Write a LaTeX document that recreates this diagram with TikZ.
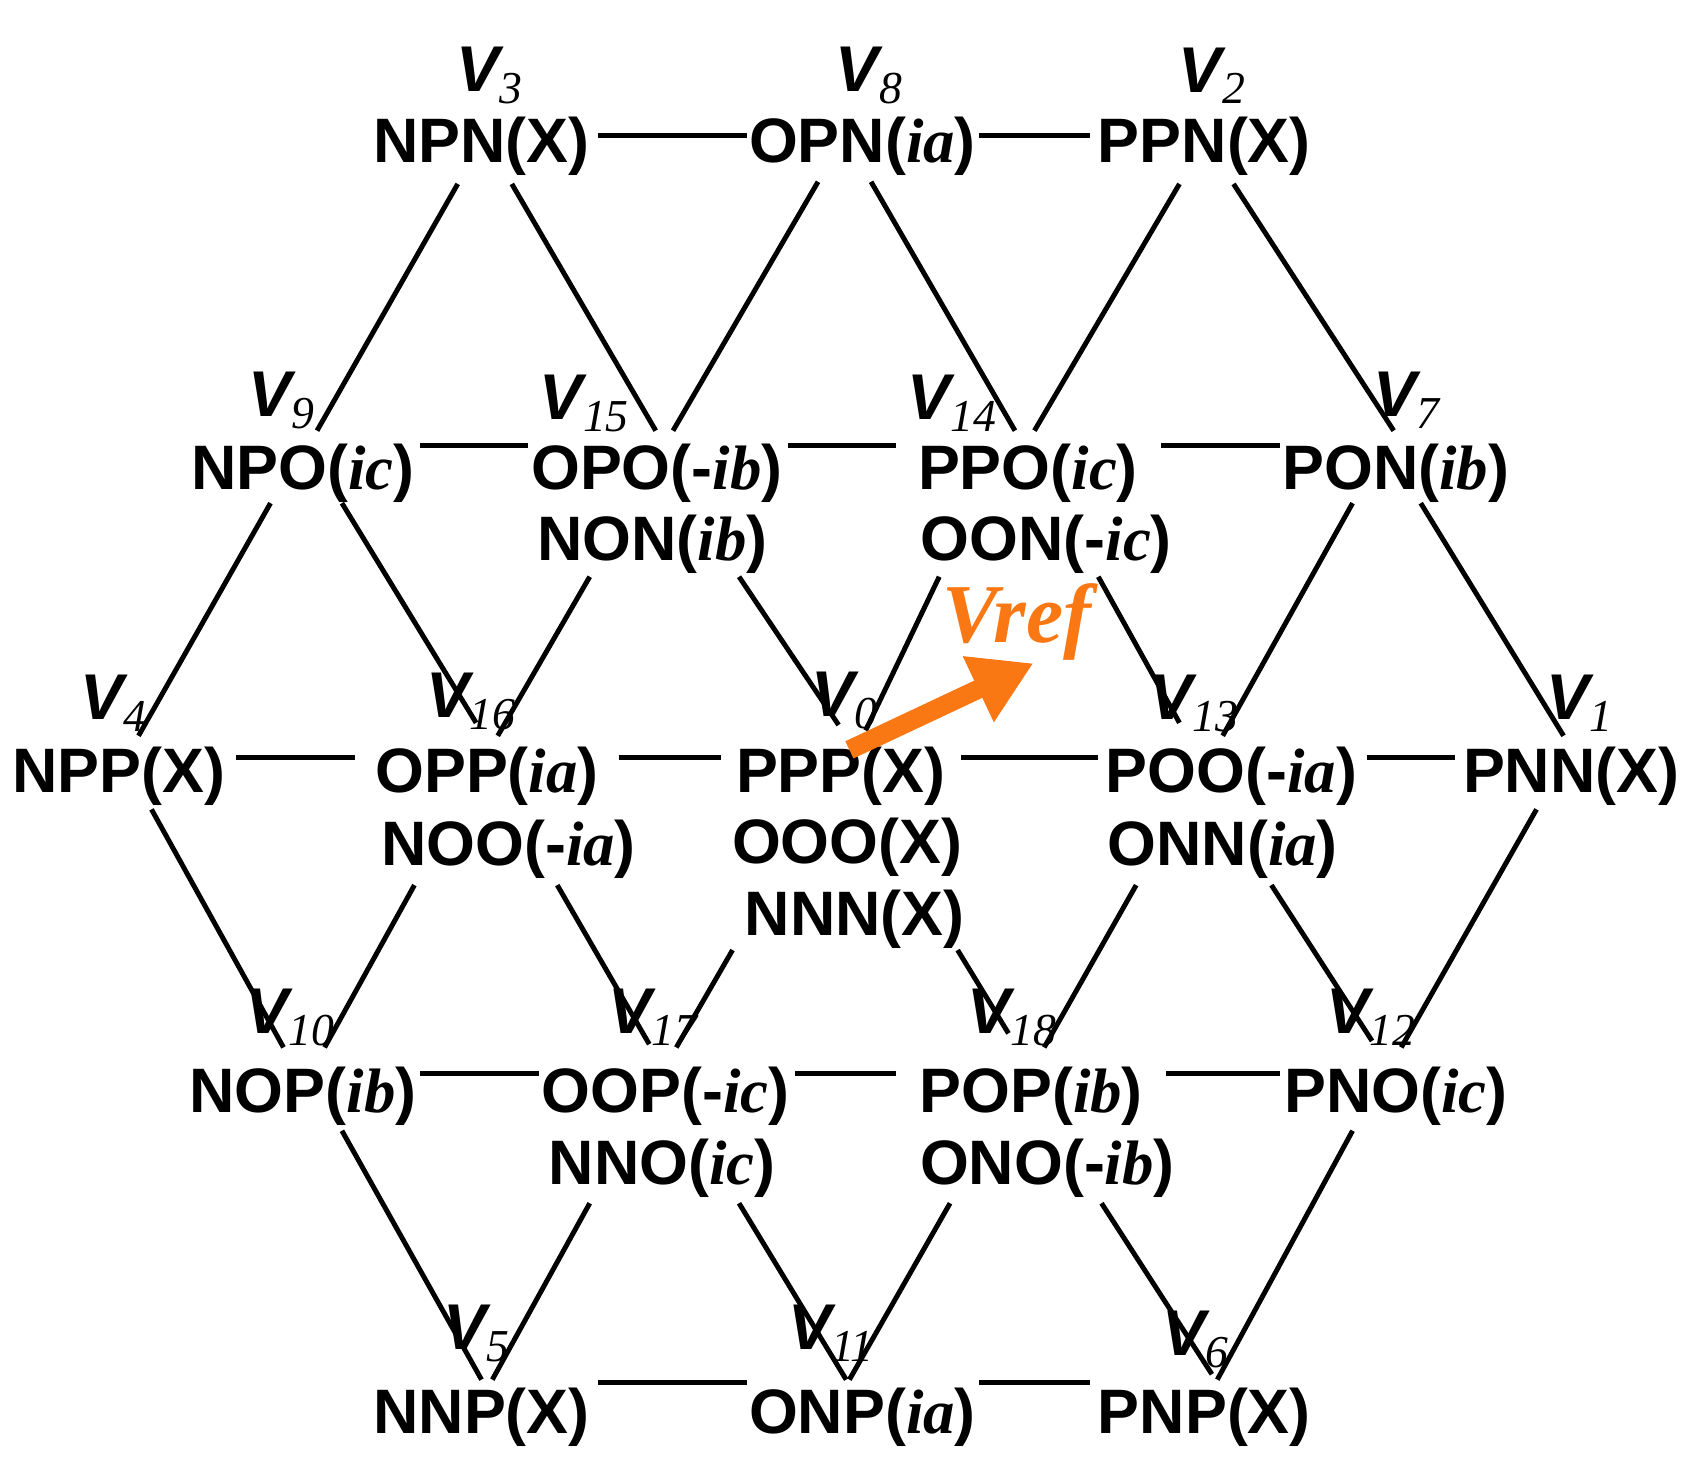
\documentclass[tikz,border=0pt]{standalone}
\usepackage{fontspec}
\setmainfont{Liberation Sans}
\newfontfamily\serifit{Liberation Serif}
\usetikzlibrary{arrows.meta}
\newcommand{\ii}[1]{{\serifit\bfseries\itshape #1}}
\newcommand{\vl}[1]{{\bfseries\itshape V}\raisebox{-0.35ex}{\fontsize{12}{12}\selectfont\serifit\itshape #1}}
\begin{document}
\begin{tikzpicture}[x=0.01cm,y=-0.01cm,
  lbl/.style={font=\fontsize{16.5}{20}\selectfont\bfseries, inner sep=0pt, align=center},
  vlab/.style={font=\fontsize{17}{20}\selectfont, inner sep=0pt},
  ln/.style={line width=1.3pt}]
\useasboundingbox (0,0) rectangle (1560,1361);
% row 1
\node[lbl] (npn) at (445,135) {NPN(X)};
\node[lbl] (opn) at (797,135) {OPN(\ii{ia})};
\node[lbl] (ppn) at (1113,135) {PPN(X)};
\node[vlab] (v3) at (452,70) {\vl{3}};
\node[vlab] (v8) at (803,70) {\vl{8}};
\node[vlab] (v2) at (1120,70) {\vl{2}};
% row 2
\node[lbl] (npo) at (280,437) {NPO(\ii{ic})};
\node[lbl] (opo) at (607,437) {OPO(-\ii{ib})};
\node[lbl] (non) at (603,503) {NON(\ii{ib})};
\node[lbl] (ppo) at (950,437) {PPO(\ii{ic})};
\node[lbl] (oon) at (967,503) {OON(-\ii{ic})};
\node[lbl] (pon) at (1290,437) {PON(\ii{ib})};
\node[vlab] (v9) at (260,370) {\vl{9}};
\node[vlab] (v15) at (540,373) {\vl{15}};
\node[vlab] (v14) at (880,373) {\vl{14}};
\node[vlab] (v7) at (1300,370) {\vl{7}};
% row 3
\node[lbl] (npp) at (110,717) {NPP(X)};
\node[lbl] (opp) at (450,717) {OPP(\ii{ia})};
\node[lbl] (noo) at (470,785) {NOO(-\ii{ia})};
\node[lbl] (ppp) at (777,717) {PPP(X)};
\node[lbl] (ooo) at (783,783) {OOO(X)};
\node[lbl] (nnn) at (790,850) {NNN(X)};
\node[lbl] (poo) at (1138,717) {POO(-\ii{ia})};
\node[lbl] (onn) at (1130,785) {ONN(\ii{ia})};
\node[lbl] (pnn) at (1452,717) {PNN(X)};
\node[vlab] (v4) at (105,650) {\vl{4}};
\node[vlab] (v16) at (435,648) {\vl{16}};
\node[vlab] (v0) at (780,647) {\vl{0}};
\node[vlab] (v13) at (1103,650) {\vl{13}};
\node[vlab] (v1) at (1460,650) {\vl{1}};
% row 4
\node[lbl] (nop) at (280,1013) {NOP(\ii{ib})};
\node[lbl] (oop) at (615,1013) {OOP(-\ii{ic})};
\node[lbl] (nno) at (612,1080) {NNO(\ii{ic})};
\node[lbl] (pop) at (953,1013) {POP(\ii{ib})};
\node[lbl] (ono) at (968,1080) {ONO(-\ii{ib})};
\node[lbl] (pno) at (1290,1013) {PNO(\ii{ic})};
\node[vlab] (v10) at (268,940) {\vl{10}};
\node[vlab] (v17) at (603,940) {\vl{17}};
\node[vlab] (v18) at (935,940) {\vl{18}};
\node[vlab] (v12) at (1267,940) {\vl{12}};
% row 5
\node[lbl] (nnp) at (445,1310) {NNP(X)};
\node[lbl] (onp) at (797,1310) {ONP(\ii{ia})};
\node[lbl] (pnp) at (1113,1310) {PNP(X)};
\node[vlab] (v5) at (440,1232) {\vl{5}};
\node[vlab] (v11) at (768,1232) {\vl{11}};
\node[vlab] (v6) at (1105,1238) {\vl{6}};
% horizontal lines
\foreach \a/\b/\y in {553/690/125,905/1007/125,
  388/488/412,728/828/412,1073/1183/412,
  218/328/700,572/666/700,888/1015/700,1263/1345/700,
  388/498/992,735/828/992,1078/1183/992,
  553/690/1278,905/1007/1278}
  \draw[ln] (\a,\y) -- (\b,\y);
% diagonals
\foreach \p/\q in {{423,170}/{293,398},{473,170}/{606,398},{756,168}/{622,398},{805,168}/{938,398},{1090,170}/{956,398},{1140,170}/{1288,398},
  {250,465}/{128,680},{316,465}/{440,668},{545,533}/{460,680},{683,533}/{775,670},{868,533}/{800,675},{1015,533}/{1090,668},{1250,465}/{1130,680},{1313,465}/{1445,680},
  {140,748}/{262,968},{383,818}/{300,968},{515,818}/{600,965},{677,878}/{625,968},{885,878}/{932,955},{1050,818}/{965,968},{1175,818}/{1268,962},{1420,748}/{1295,968},
  {316,1045}/{445,1275},{545,1112}/{455,1275},{683,1112}/{782,1275},{878,1112}/{785,1275},{1018,1112}/{1120,1270},{1250,1045}/{1125,1275}}
  \draw[ln] (\p) -- (\q);
% Vref arrow
\definecolor{vor}{RGB}{250,120,20}
\coordinate (as) at (785,693);
\node[font=\fontsize{22}{24}\selectfont\serifit\bfseries\itshape, text=vor, inner sep=0pt] (vref) at (940,575) {Vref};
\draw[vor, line width=5pt, -{Triangle[length=16pt,width=18pt]}] (as) -- (955,613);
\end{tikzpicture}
\end{document}
